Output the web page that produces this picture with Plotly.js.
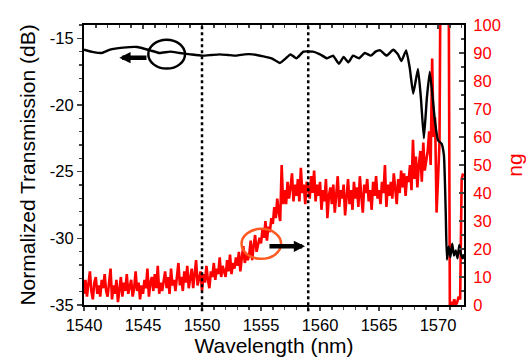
<!DOCTYPE html>
<html>
<head>
<meta charset="utf-8">
<script src="https://cdn.plot.ly/plotly-3.0.1.min.js"></script>
<style>html,body{margin:0;padding:0;background:#fff;}#chart{width:526px;height:361px;}</style>
</head>
<body>
<div id="chart"></div>
<script>
// ---------- data ----------
// Normalized transmission (black, left axis, dB)
const transWavelength = [1540, 1540.8, 1541.5, 1542.2, 1543.3, 1544.5, 1545.6, 1546.4, 1547.3, 1548.1, 1549.0, 1550.0,
  1550.8, 1551.5, 1552.2, 1552.9, 1553.6, 1554.3, 1555.2, 1555.9, 1556.6, 1557.1, 1557.5, 1558.0, 1558.6, 1559.4,
  1560.0, 1560.6, 1561.1, 1561.6, 1562.0, 1562.4, 1562.8, 1563.3, 1563.8, 1564.3, 1564.7, 1565.1, 1565.65, 1566.2,
  1566.6, 1566.9, 1567.3, 1567.6, 1567.9, 1568.3, 1568.55, 1568.8, 1569.05, 1569.3, 1569.55, 1569.75, 1570.0, 1570.3,
  1570.5, 1570.65, 1570.75, 1570.9, 1571.05, 1571.2, 1571.35, 1571.5, 1571.65, 1571.8, 1571.95, 1572.1, 1572.2];
const transDb = [-15.85, -16.03, -16.1, -15.85, -15.7, -15.65, -15.9, -16.1, -16.0, -16.1, -16.2, -16.3,
  -16.25, -16.2, -16.25, -16.3, -16.2, -16.2, -16.35, -16.5, -16.85, -16.5, -16.2, -16.5, -16.0, -16.0,
  -16.2, -16.5, -16.3, -16.9, -16.4, -16.8, -16.3, -16.5, -16.1, -16.3, -16.0, -15.9, -16.3, -15.85,
  -16.2, -16.7, -15.9, -17.2, -19.15, -17.3, -19.5, -22.5, -19.5, -17.5, -19.5, -21.3, -22.65, -22.9,
  -23.8, -28.0, -31.6, -30.6, -31.4, -30.4, -31.3, -30.9, -31.5, -30.5, -31.2, -31.5, -31.2];

// Group index ng (red, right axis), sampled every 0.125 nm from 1540 nm
const ngStartNm = 1540;
const ngStepNm = 0.125;
const ngValues = [
  4, 9, 3, 7, 12, 5, 2, 8,          // 1540
  10, 4, 7, 3, 9, 6, 11, 5,         // 1541
  3, 8, 13, 2, 7, 4, 9, 1,          // 1542
  6, 10, 3, 8, 5, 11, 4, 7,         // 1543
  9, 3, 6, 12, 5, 8, 2, 7,          // 1544
  4, 9, 6, 13, 3, 8, 10, 5,         // 1545
  11, 6, 14, 4, 8, 5, 9, 12,        // 1546
  6, 10, 4, 13, 7, 9, 5, 11,        // 1547
  15, 7, 10, 5, 12, 8, 14, 6,       // 1548
  9, 13, 6, 11, 16, 7, 10, 12,      // 1549
  5, 11, 8, 14, 9, 6, 12, 10,       // 1550
  15, 9, 13, 11, 17, 10, 14, 12,    // 1551
  10, 16, 12, 18, 11, 15, 13, 17,   // 1552
  14, 19, 12, 17, 21, 15, 18, 16,   // 1553
  18, 23, 16, 21, 25, 19, 22, 24,   // 1554
  22, 27, 24, 30, 23, 28, 26, 31,   // 1555
  29, 35, 31, 38, 33, 30, 50, 36,   // 1556
  41, 36, 44, 38, 42, 47, 37, 43,   // 1557
  39, 45, 37, 49, 40, 43, 36, 44,   // 1558
  42, 38, 46, 40, 48, 37, 43, 39,   // 1559
  44, 34, 41, 37, 45, 31, 39, 42,   // 1560
  36, 43, 33, 40, 46, 35, 41, 38,   // 1561
  43, 32, 39, 45, 36, 41, 34, 44,   // 1562
  38, 42, 35, 46, 39, 33, 43, 40,   // 1563
  45, 37, 41, 34, 44, 39, 46, 38,   // 1564
  41, 36, 44, 40, 50, 35, 43, 39,   // 1565
  44, 38, 47, 41, 36, 45, 40, 48,   // 1566
  42, 47, 39, 46, 44, 50, 41, 59,   // 1567
  45, 53, 42, 50, 55, 44, 58, 48,   // 1568
  51, 55, 62, 50, 88, 60, 67, 33,   // 1569
  45, 58, 150, 150, 150, 150, 150, 150, // 1570
  0, 1, 0, 2, 0, 1, 3, 2,           // 1571
  45, 47                            // 1572
];
const ngWavelength = ngValues.map((_, i) => ngStartNm + i * ngStepNm);

// axes / ticks
const xTickVals = [1540, 1545, 1550, 1555, 1560, 1565, 1570];
const dbTickVals = [-35, -30, -25, -20, -15];
const dbTickText = ['-35', '-30', '-25', '-20', '-15'];
const ngTickVals = [0, 10, 20, 30, 40, 50, 60, 70, 80, 90, 100];
const markerWavelengths = [1550, 1559];

const FONT = 'Liberation Sans, Arial, Helvetica, sans-serif';
const RED = '#ff0000';

const traces = [
  {x: ngWavelength, y: ngValues, xaxis: 'x', yaxis: 'y', type: 'scatter', mode: 'lines',
   line: {color: RED, width: 2.6}, hoverinfo: 'skip'},
  {x: transWavelength, y: transDb, xaxis: 'x2', yaxis: 'y2', type: 'scatter', mode: 'lines',
   line: {color: '#000', width: 2.4, shape: 'spline', smoothing: 0.4}, hoverinfo: 'skip'}
];

const xr = [1540, 1572.2];
const layout = {
  width: 526, height: 361,
  margin: {l: 84, r: 62, t: 25, b: 56},
  paper_bgcolor: '#fff', plot_bgcolor: '#fff',
  showlegend: false,
  font: {family: FONT, color: '#000', size: 16},
  xaxis: {
    range: xr, tickmode: 'array', tickvals: xTickVals, ticks: 'outside', ticklen: 4, tickwidth: 1.5,
    minor: {tickmode: 'linear', tick0: 1540, dtick: 1, ticks: 'outside', ticklen: 3, tickwidth: 1.5},
    showline: true, linewidth: 2, linecolor: '#000', showgrid: false, zeroline: false,
    tickfont: {size: 16.5, family: FONT},
    title: {text: 'Wavelength (nm)', font: {size: 21, family: FONT}, standoff: 6}
  },
  xaxis2: {
    range: xr, overlaying: 'x', side: 'top', anchor: 'y', showticklabels: false,
    tickmode: 'array', tickvals: xTickVals, ticks: 'inside', ticklen: 4, tickwidth: 1.5,
    minor: {tickmode: 'linear', tick0: 1540, dtick: 1, ticks: 'inside', ticklen: 3, tickwidth: 1.5},
    showline: true, linewidth: 2, linecolor: '#000', showgrid: false, zeroline: false
  },
  yaxis: {
    range: [0, 100], side: 'right', anchor: 'x', tickmode: 'array', tickvals: ngTickVals,
    ticks: 'inside', ticklen: 5, tickwidth: 1.5,
    minor: {tickmode: 'linear', tick0: 0, dtick: 5, ticks: 'inside', ticklen: 3, tickwidth: 1.5},
    showline: true, linewidth: 2, linecolor: '#000', showgrid: false, zeroline: false,
    tickfont: {size: 16.5, color: RED, family: FONT}, ticklabelstandoff: 4,
    title: {text: 'ng', font: {size: 21, color: RED, family: FONT}, standoff: 8}
  },
  yaxis2: {
    range: [-35, -14], overlaying: 'y', side: 'left', anchor: 'x', tickmode: 'array',
    tickvals: dbTickVals, ticktext: dbTickText, ticks: 'outside', ticklen: 5, tickwidth: 1.5,
    minor: {tickmode: 'linear', tick0: -35, dtick: 1, ticks: 'outside', ticklen: 3, tickwidth: 1.5},
    showline: true, linewidth: 2, linecolor: '#000', showgrid: false, zeroline: false,
    tickfont: {size: 16.5, family: FONT},
    title: {text: 'Normalized Transmission (dB)', font: {size: 21, family: FONT}, standoff: 8}
  },
  shapes: [
    ...markerWavelengths.map(w => ({type: 'line', xref: 'x', yref: 'paper', x0: w, x1: w, y0: -0.022, y1: 1,
      line: {color: '#000', width: 2.5, dash: 'dot'}, layer: 'above'})),
    {type: 'circle', xref: 'x', yref: 'y2', x0: 1545.45, x1: 1548.56, y0: -17.27, y1: -15.1,
     line: {color: '#000', width: 2.5}, layer: 'above'},
    {type: 'circle', xref: 'x', yref: 'y2', x0: 1553.35, x1: 1556.7, y0: -31.54, y1: -29.29,
     line: {color: '#ff5a22', width: 2.5}, layer: 'above'}
  ],
  annotations: [
    {xref: 'x', yref: 'y2', axref: 'x', ayref: 'y2', x: 1542.99, y: -16.45, ax: 1545.42, ay: -16.45,
     text: '', showarrow: true, arrowhead: 2, arrowsize: 0.5, arrowwidth: 4.5, arrowcolor: '#000'},
    {xref: 'x', yref: 'y2', axref: 'x', ayref: 'y2', x: 1558.73, y: -30.6, ax: 1555.59, ay: -30.6,
     text: '', showarrow: true, arrowhead: 2, arrowsize: 0.5, arrowwidth: 4.5, arrowcolor: '#000'}
  ]
};

Plotly.newPlot('chart', traces, layout, {staticPlot: true, displayModeBar: false});
</script>
</body>
</html>
